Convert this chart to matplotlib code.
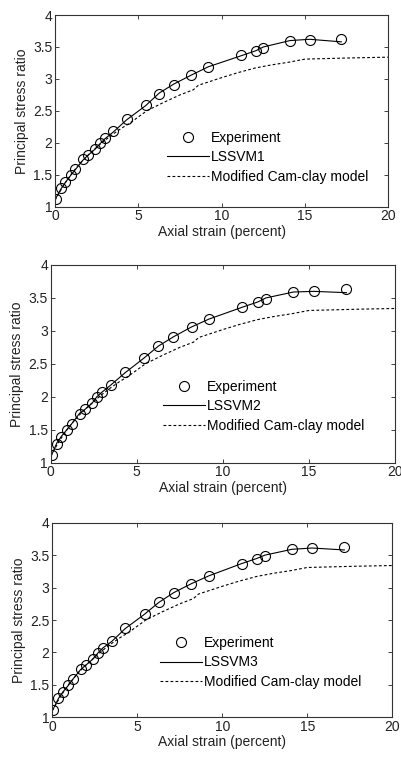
import matplotlib
matplotlib.use("Agg")
import matplotlib.pyplot as plt
import numpy as np

plt.rcParams['font.family'] = ['Liberation Sans', 'DejaVu Sans']

# Experimental data (axial strain %, principal stress ratio)
exp_x = [0.06, 0.36, 0.62, 0.94, 1.22, 1.68, 2.0, 2.4, 2.68, 2.98, 3.5, 4.3,
         5.43, 6.26, 7.13, 8.18, 9.2, 11.14, 12.04, 12.5, 14.1, 15.28, 17.18]
exp_y = [1.12, 1.29, 1.39, 1.50, 1.59, 1.74, 1.81, 1.90, 1.99, 2.07, 2.18, 2.37,
         2.59, 2.77, 2.91, 3.06, 3.18, 3.37, 3.44, 3.49, 3.59, 3.61, 3.63]

# LSSVM predictions at the experimental strains
lssvm1_y = [1.14, 1.28, 1.38, 1.49, 1.58, 1.73, 1.81, 1.90, 1.98, 2.06, 2.17, 2.36,
            2.58, 2.78, 2.92, 3.06, 3.19, 3.36, 3.44, 3.50, 3.60, 3.62, 3.58]
lssvm2_y = [1.12, 1.30, 1.40, 1.50, 1.59, 1.75, 1.81, 1.90, 2.00, 2.07, 2.18, 2.36,
            2.59, 2.77, 2.91, 3.06, 3.18, 3.36, 3.44, 3.50, 3.59, 3.60, 3.58]
lssvm3_y = [1.13, 1.29, 1.39, 1.49, 1.59, 1.74, 1.81, 1.90, 1.99, 2.07, 2.17, 2.37,
            2.59, 2.77, 2.92, 3.06, 3.18, 3.37, 3.45, 3.50, 3.59, 3.61, 3.58]

# Modified Cam-clay model curve
cam_x = [0.0, 0.5, 1.0, 1.5, 2.0, 2.5, 3.0, 3.5, 4.0, 4.5, 5.5, 6.5, 7.5, 8.3,
         8.6, 10.0, 11.0, 12.0, 13.0, 14.0, 15.0, 16.5, 18.0, 20.0]
cam_y = [1.10, 1.33, 1.52, 1.68, 1.81, 1.93, 2.04, 2.14, 2.23, 2.31, 2.50, 2.63,
         2.75, 2.83, 2.90, 3.02, 3.10, 3.17, 3.22, 3.26, 3.31, 3.32, 3.33, 3.34]

model_labels = ["LSSVM1", "LSSVM2", "LSSVM3"]
xticks = [0, 5, 10, 15, 20]
yticks = [1, 1.5, 2, 2.5, 3, 3.5, 4]
yticklabels = ["1", "1.5", "2", "2.5", "3", "3.5", "4"]

fig = plt.figure(figsize=(4.01, 7.58), dpi=100)

axes_rects = [
    [0.1372, 0.7273, 0.8312, 0.2529],
    [0.1264, 0.3896, 0.8586, 0.2608],
    [0.1304, 0.0537, 0.8479, 0.2567],
]
legend_anchor = [(0.336, 0.395), (0.326, 0.418), (0.318, 0.417)]
preds = [lssvm1_y, lssvm2_y, lssvm3_y]

txt_color = '#222222'
for i, rect in enumerate(axes_rects):
    ax = fig.add_axes(rect)
    ax.plot(exp_x, exp_y, linestyle='none', marker='o', markersize=7.2,
            markerfacecolor='none', markeredgecolor='black', markeredgewidth=0.8,
            label='Experiment')
    ax.plot(exp_x, preds[i], color='black', linewidth=0.8, label=model_labels[i])
    ax.plot(cam_x, cam_y, color='black', linewidth=0.8, linestyle=(0, (2.5, 2)),
            label='Modified Cam-clay model')
    ax.set_xlim(0, 20)
    ax.set_ylim(1, 4)
    ax.set_xticks(xticks)
    ax.set_yticks(yticks)
    ax.set_yticklabels(yticklabels)
    ax.tick_params(direction='in', top=True, right=True, length=3, width=0.6,
                   labelsize=10, colors=txt_color, pad=2)
    for s in ax.spines.values():
        s.set_linewidth(0.8)
        s.set_color('#333333')
    ax.set_xlabel('Axial strain (percent)', fontsize=10, color=txt_color, labelpad=1)
    ax.set_ylabel('Principal stress ratio', fontsize=10, color=txt_color, labelpad=3)
    ax.legend(loc='upper left', bbox_to_anchor=legend_anchor[i], frameon=False,
              fontsize=10, handlelength=3.0, handletextpad=0.15, labelspacing=0.38,
              borderpad=0, borderaxespad=0)

fig.savefig('out.png', dpi=100)
